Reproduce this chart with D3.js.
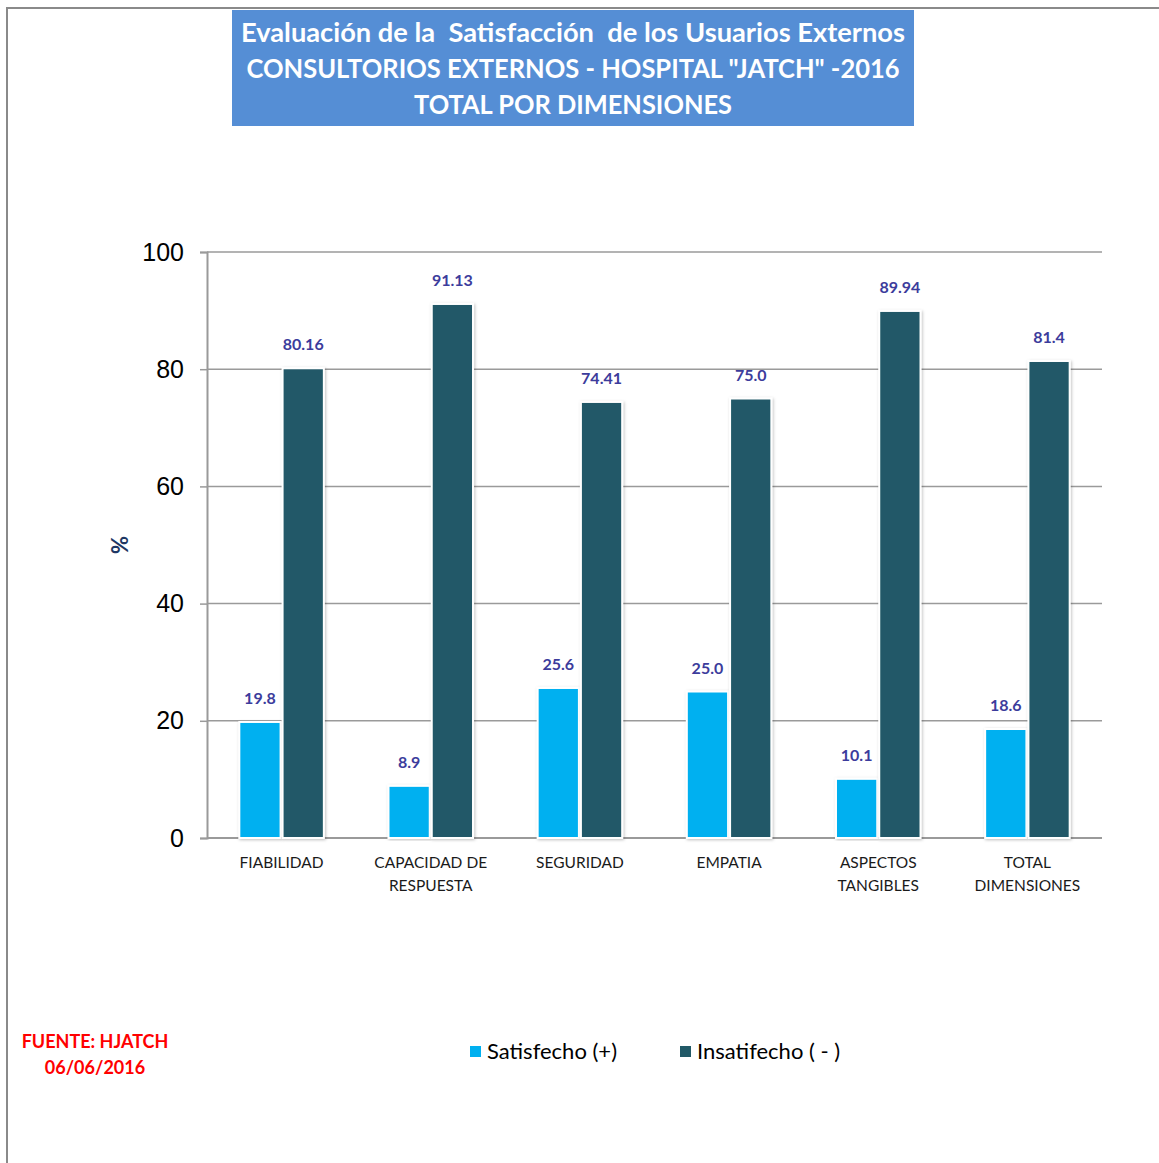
<!DOCTYPE html>
<html>
<head>
<meta charset="utf-8">
<script src="https://cdn.jsdelivr.net/npm/d3@7"></script>
<style>
  body { margin: 0; background: #fff; }
  svg { display: block; font-family: Lato, 'Open Sans', sans-serif; }
</style>
</head>
<body>
<svg id="chart" width="1159" height="1163"></svg>
<script>
const categories = [['FIABILIDAD'], ['CAPACIDAD DE', 'RESPUESTA'], ['SEGURIDAD'], ['EMPATIA'], ['ASPECTOS', 'TANGIBLES'], ['TOTAL', 'DIMENSIONES']]
const satisfecho = [19.8, 8.9, 25.6, 25.0, 10.1, 18.6]
const insatisfecho = [80.16, 91.13, 74.41, 75.0, 89.94, 81.4]
const satisfechoLabels = ['19.8', '8.9', '25.6', '25.0', '10.1', '18.6']
const insatisfechoLabels = ['80.16', '91.13', '74.41', '75.0', '89.94', '81.4']
const yTicks = [0, 20, 40, 60, 80, 100]
const seriesNames = ['Satisfecho (+)', 'Insatifecho ( - )']
const titleLines = ['Evaluación de la  Satisfacción  de los Usuarios Externos', 'CONSULTORIOS EXTERNOS - HOSPITAL "JATCH" -2016', 'TOTAL POR DIMENSIONES']
const titleWidths = [664, 653, 318]

const colors = ['#00b0f0', '#215967']
const margin = { left: 207, right: 1102, top: 252, bottom: 838 }

const svg = d3.select('#chart')

// frame
svg.append('path')
  .attr('d', 'M7,1163 V8 H1159')
  .attr('fill', 'none')
  .attr('stroke', '#8a8a8a')
  .attr('stroke-width', 2)

const defs = svg.append('defs')
const shadow = defs.append('filter').attr('id', 'shadow').attr('x', '-20%').attr('y', '-5%').attr('width', '140%').attr('height', '110%')
shadow.append('feDropShadow').attr('dx', 1).attr('dy', 1).attr('stdDeviation', 1.5).attr('flood-color', '#000').attr('flood-opacity', 0.25)

// title box
svg.append('rect')
  .attr('x', 232).attr('y', 10).attr('width', 682).attr('height', 116)
  .attr('fill', '#558ed5')
svg.append('g').selectAll('text')
  .data(titleLines)
  .join('text')
  .attr('x', 573)
  .attr('y', (d, i) => 42 + i * 36)
  .attr('text-anchor', 'middle')
  .attr('fill', '#fff')
  .attr('font-size', 26)
  .attr('font-weight', 'bold')
  .attr('textLength', (d, i) => titleWidths[i])
  .attr('lengthAdjust', 'spacingAndGlyphs')
  .style('white-space', 'pre')
  .text(d => d)

const y = d3.scaleLinear().domain([0, 100]).range([margin.bottom, margin.top])
const x0 = d3.scaleBand()
  .domain(d3.range(categories.length))
  .range([margin.left, margin.right])
  .paddingInner(0.42)
  .paddingOuter(0.21)
const x1 = d3.scaleBand().domain([0, 1]).range([0, x0.bandwidth()])

// grid + y axis
const yAxis = svg.append('g')
  .attr('transform', `translate(${margin.left},0)`)
  .call(d3.axisLeft(y).tickValues(yTicks).tickSize(7).tickPadding(16))
yAxis.select('.domain').attr('stroke', '#9a9a9a').attr('stroke-width', 2)
yAxis.selectAll('.tick line').attr('stroke', '#9a9a9a').attr('stroke-width', 1.5)
yAxis.selectAll('.tick text').attr('font-size', 25).attr('fill', '#000')

svg.append('g').selectAll('line')
  .data(yTicks)
  .join('line')
  .attr('x1', margin.left).attr('x2', margin.right)
  .attr('y1', d => y(d)).attr('y2', d => y(d))
  .attr('stroke', '#9a9a9a')
  .attr('stroke-width', d => d === 0 ? 2 : 1.5)

svg.append('text')
  .attr('transform', 'translate(128,545) rotate(-90)')
  .attr('text-anchor', 'middle')
  .attr('font-size', 22)
  .attr('font-weight', 'bold')
  .attr('fill', '#1f3864')
  .text('%')

// bars
const series = [satisfecho, insatisfecho]
const labels = [satisfechoLabels, insatisfechoLabels]
const groups = svg.append('g').selectAll('g')
  .data(categories.map((c, i) => i))
  .join('g')
  .attr('transform', i => `translate(${x0(i)},0)`)

groups.selectAll('rect')
  .data(i => series.map((s, k) => ({ k, v: s[i] })))
  .join('rect')
  .attr('x', d => x1(d.k) + 1)
  .attr('width', x1.bandwidth() - 2)
  .attr('y', d => y(d.v))
  .attr('height', d => y(0) - y(d.v))
  .attr('fill', d => colors[d.k])
  .attr('stroke', '#fff')
  .attr('stroke-width', 2)
  .attr('filter', 'url(#shadow)')

groups.selectAll('text.val')
  .data(i => series.map((s, k) => ({ k, v: s[i], t: labels[k][i] })))
  .join('text')
  .attr('class', 'val')
  .attr('x', d => x1(d.k) + x1.bandwidth() / 2)
  .attr('y', d => y(d.v) - 18)
  .attr('text-anchor', 'middle')
  .attr('font-size', 16)
  .attr('font-weight', 'bold')
  .attr('fill', '#3c3c9c')
  .text(d => d.t)

// category labels
svg.append('g').selectAll('text')
  .data(categories)
  .join('text')
  .attr('x', (d, i) => x0(i) + x0.bandwidth() / 2)
  .attr('y', 868)
  .attr('text-anchor', 'middle')
  .attr('font-size', 15.5)
  .attr('fill', '#1a1a1a')
  .selectAll('tspan')
  .data(d => d)
  .join('tspan')
  .attr('x', function () { return this.parentNode.getAttribute('x') })
  .attr('dy', (d, i) => i === 0 ? 0 : 23)
  .text(d => d)

// legend
const legendX = [470, 680]
const legend = svg.append('g').selectAll('g')
  .data(seriesNames)
  .join('g')
  .attr('transform', (d, i) => `translate(${legendX[i]},1046)`)
legend.append('rect').attr('width', 11).attr('height', 11).attr('fill', (d, i) => colors[i])
legend.append('text')
  .attr('x', 17).attr('y', 13)
  .attr('font-size', 22)
  .attr('fill', '#000')
  .text(d => d)

// source note
svg.append('g').selectAll('text')
  .data(['FUENTE: HJATCH', '06/06/2016'])
  .join('text')
  .attr('x', 95)
  .attr('y', (d, i) => 1048 + i * 26)
  .attr('text-anchor', 'middle')
  .attr('font-size', 18)
  .attr('font-weight', 'bold')
  .attr('fill', '#ff0000')
  .text(d => d)
</script>
</body>
</html>
